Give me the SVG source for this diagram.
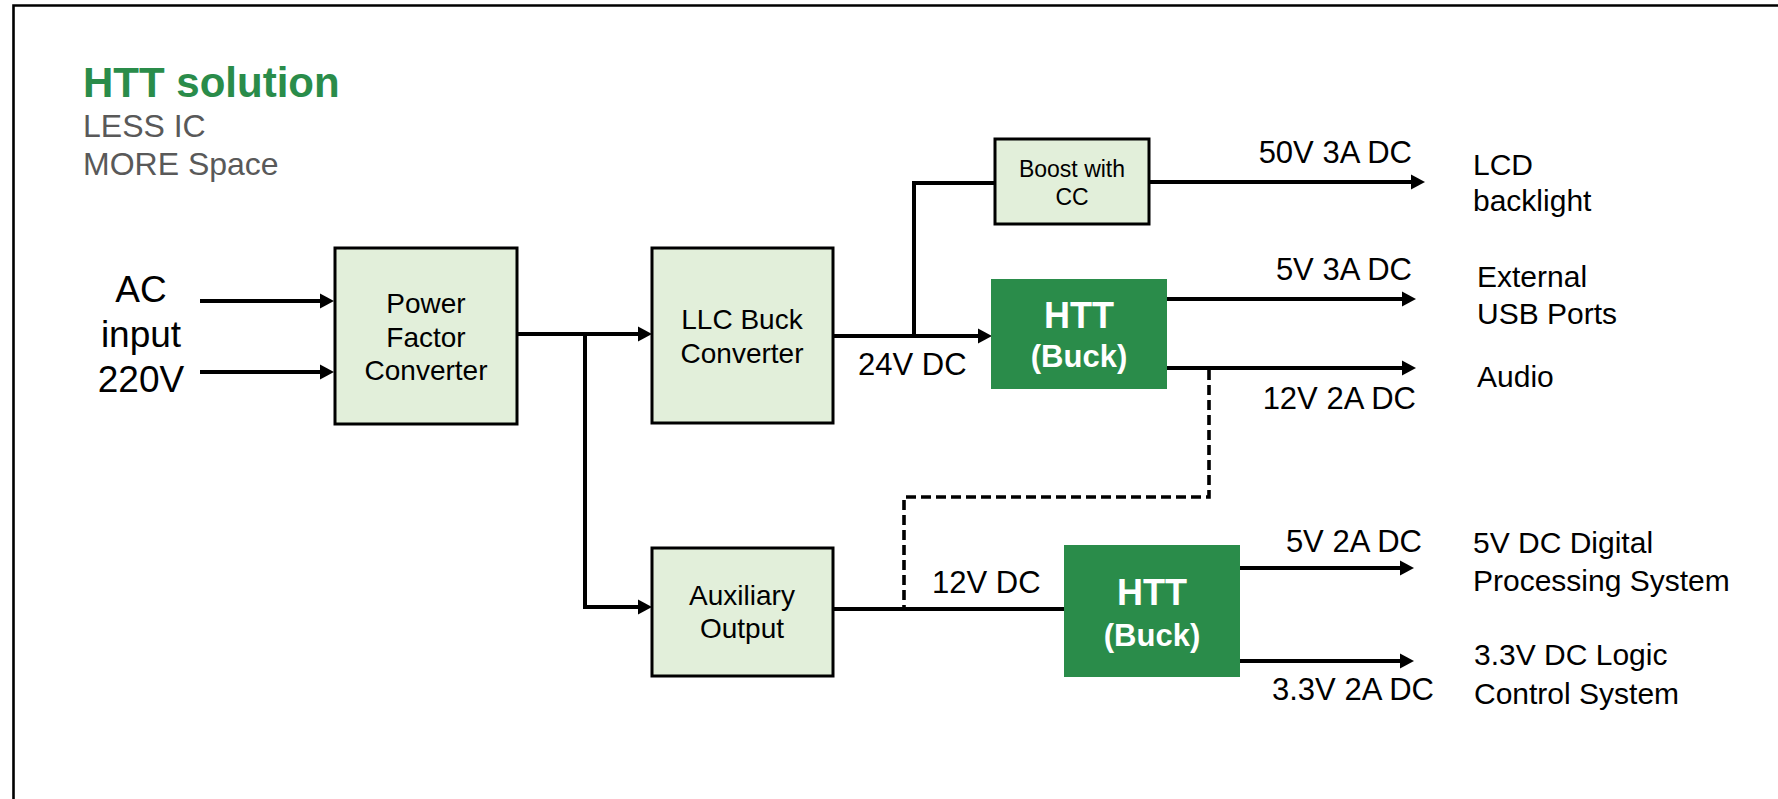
<svg xmlns="http://www.w3.org/2000/svg" width="1778" height="799" viewBox="0 0 1778 799">
<defs>
<style>
text{font-family:"Liberation Sans",Arial,sans-serif;fill:#000}
.box{fill:#E2EFDA;stroke:#000;stroke-width:3}
.htt{fill:#2A8C4A}
.bt{font-size:28px;text-anchor:middle}
.ht{font-weight:bold;fill:#fff;text-anchor:middle}
.lbl{font-size:31px}
.dst{font-size:30px}
.ln{fill:none;stroke:#000;stroke-width:4}
.arr{marker-end:url(#ah)}
.dash{fill:none;stroke:#000;stroke-width:3.6;stroke-dasharray:10 5}
</style>
<marker id="ah" markerUnits="userSpaceOnUse" markerWidth="16" markerHeight="16" refX="4" refY="8" orient="auto">
<path d="M0,0.5 L14,8 L0,15.5 Z" fill="#000"/>
</marker>
</defs>
<rect width="1778" height="799" fill="#fff"/>
<path d="M13.5,799 V5.5 H1778" fill="none" stroke="#000" stroke-width="2.6"/>
<g id="title">
<text x="83" y="97" style="font-size:42px;font-weight:bold;fill:#2A8C4A">HTT solution</text>
<text x="83" y="137" style="font-size:32px;fill:#595959">LESS IC</text>
<text x="83" y="175" style="font-size:32px;fill:#595959">MORE Space</text>
</g>
<g id="ac-input">
<text x="141" y="302" style="font-size:37px;text-anchor:middle">AC</text>
<text x="141" y="347" style="font-size:37px;text-anchor:middle">input</text>
<text x="141" y="392" style="font-size:37px;text-anchor:middle">220V</text>
</g>
<g id="connectors">
<path class="ln arr" d="M200,301 H324"/>
<path class="ln arr" d="M200,372 H324"/>
<path class="ln arr" d="M517,334 H642"/>
<path class="ln arr" d="M585,334 V607 H642"/>
<path class="ln arr" d="M833,336 H982"/>
<path class="ln" d="M914,336 V183 H995"/>
<path class="ln arr" d="M1149,182 H1415"/>
<path class="ln arr" d="M1167,299 H1406"/>
<path class="ln arr" d="M1167,368 H1406"/>
<path class="ln" d="M833,609 H1064"/>
<path class="ln arr" d="M1240,568 H1404"/>
<path class="ln arr" d="M1240,661 H1404"/>
<path class="dash" d="M1209,370 V497 H904 V607"/>
</g>
<g id="labels">
<text class="lbl" x="858" y="375">24V DC</text>
<text class="lbl" x="1412" y="163" text-anchor="end">50V 3A DC</text>
<text class="lbl" x="1412" y="280" text-anchor="end">5V 3A DC</text>
<text class="lbl" x="1416" y="409" text-anchor="end">12V 2A DC</text>
<text class="lbl" x="932" y="593">12V DC</text>
<text class="lbl" x="1422" y="552" text-anchor="end">5V 2A DC</text>
<text class="lbl" x="1434" y="700" text-anchor="end">3.3V 2A DC</text>
</g>
<g id="pfc">
<rect class="box" x="335" y="248" width="182" height="176"/>
<text class="bt" x="426" y="313">Power</text>
<text class="bt" x="426" y="347">Factor</text>
<text class="bt" x="426" y="380">Converter</text>
</g>
<g id="llc">
<rect class="box" x="652" y="248" width="181" height="175"/>
<text class="bt" x="742" y="329">LLC Buck</text>
<text class="bt" x="742" y="363">Converter</text>
</g>
<g id="boost">
<rect class="box" x="995" y="139" width="154" height="85"/>
<text x="1072" y="177" style="font-size:23px;text-anchor:middle">Boost with</text>
<text x="1072" y="205" style="font-size:23px;text-anchor:middle">CC</text>
</g>
<g id="htt1">
<rect class="htt" x="991" y="279" width="176" height="110"/>
<text class="ht" x="1079" y="328" style="font-size:36px">HTT</text>
<text class="ht" x="1079" y="367" style="font-size:31px">(Buck)</text>
</g>
<g id="aux">
<rect class="box" x="652" y="548" width="181" height="128"/>
<text class="bt" x="742" y="605">Auxiliary</text>
<text class="bt" x="742" y="638">Output</text>
</g>
<g id="htt2">
<rect class="htt" x="1064" y="545" width="176" height="132"/>
<text class="ht" x="1152" y="605" style="font-size:36px">HTT</text>
<text class="ht" x="1152" y="646" style="font-size:31px">(Buck)</text>
</g>
<g id="lcd">
<text class="dst" x="1473" y="175">LCD</text>
<text class="dst" x="1473" y="211">backlight</text>
</g>
<g id="usb">
<text class="dst" x="1477" y="287">External</text>
<text class="dst" x="1477" y="324">USB Ports</text>
</g>
<g id="audio">
<text class="dst" x="1477" y="387">Audio</text>
</g>
<g id="digital">
<text class="dst" x="1473" y="553">5V DC Digital</text>
<text class="dst" x="1473" y="591">Processing System</text>
</g>
<g id="logic">
<text class="dst" x="1474" y="665">3.3V DC Logic</text>
<text class="dst" x="1474" y="704">Control System</text>
</g>
</svg>
